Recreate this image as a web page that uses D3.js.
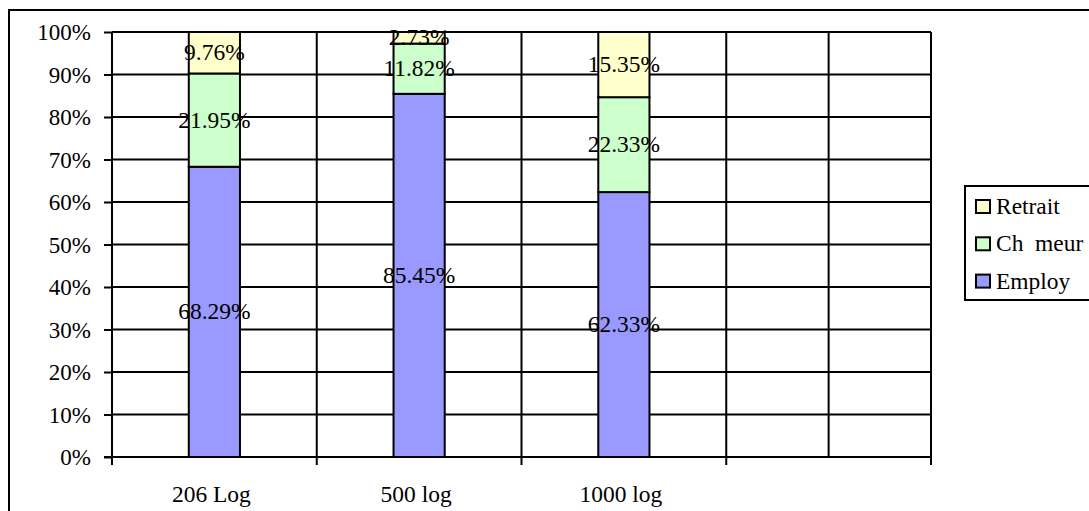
<!DOCTYPE html>
<html>
<head>
<meta charset="utf-8">
<script src="https://cdn.jsdelivr.net/npm/d3@7"></script>
<style>
  html, body { margin: 0; padding: 0; background: #fff; }
  svg { display: block; }
  text { font-family: "Liberation Serif", "Times New Roman", serif; fill: #000; }
</style>
</head>
<body>
<svg id="chart" width="1089" height="511"></svg>
<script>
// ---- data ----
const categories = ["206 Log", "500 log", "1000 log", ""];
const seriesNames = ["Employ", "Ch  meur", "Retrait"];
const employ  = [68.29, 85.45, 62.33];
const chomeur = [21.95, 11.82, 22.33];
const retrait = [9.76, 2.73, 15.35];
const yTicks = [0, 10, 20, 30, 40, 50, 60, 70, 80, 90, 100];
const colors = ["#9999FF", "#CCFFCC", "#FFFFCC"];

(function () {
const svg = d3.select("#chart");
const W = 1089, H = 511;
const pL = 112, pR = 931, pT = 32, pB = 457;
const FS = 23, SX = 1.02;

// outer chart border
svg.append("rect").attr("x", 9).attr("y", 10).attr("width", W + 20).attr("height", H + 20)
  .attr("fill", "#fff").attr("stroke", "#000").attr("stroke-width", 2);

const x = d3.scaleBand().domain(categories).range([pL, pR])
  .paddingInner(0.75).paddingOuter(0.375);
const y = d3.scaleLinear().domain([0, 100]).range([pB, pT]);

const rows = categories.slice(0, 3).map((c, i) => ({cat: c, v: [employ[i], chomeur[i], retrait[i]]}));

// horizontal gridlines
svg.append("g").selectAll("line").data(yTicks).join("line")
  .attr("x1", pL).attr("x2", pR)
  .attr("y1", d => y(d)).attr("y2", d => y(d))
  .attr("stroke", "#000").attr("stroke-width", 2);

// vertical gridlines every half category step
const step = x.step();
const vg = d3.range(1, categories.length * 2 + 1).map(k => pL + k * step / 2);
svg.append("g").selectAll("line").data(vg).join("line")
  .attr("x1", d => d).attr("x2", d => d)
  .attr("y1", pT).attr("y2", pB)
  .attr("stroke", "#000").attr("stroke-width", 2);

// bars
const segs = [];
rows.forEach(r => {
  let acc = 0;
  r.v.forEach((v, s) => {
    segs.push({cat: r.cat, s, y0: acc, y1: acc + v, v});
    acc += v;
  });
});
svg.append("g").selectAll("rect").data(segs).join("rect")
  .attr("x", d => x(d.cat))
  .attr("width", x.bandwidth())
  .attr("y", d => y(Math.min(100, d.y1)))
  .attr("height", d => y(d.y0) - y(Math.min(100, d.y1)))
  .attr("fill", d => colors[d.s])
  .attr("stroke", "#000").attr("stroke-width", 2);

// data labels
svg.append("g").selectAll("text").data(segs).join("text")
  .attr("transform", d => `translate(${x(d.cat) + x.bandwidth() / 2},${y((d.y0 + Math.min(100, d.y1)) / 2)}) scale(${SX},1)`)
  .attr("text-anchor", "middle").attr("dy", "0.33em")
  .attr("font-size", FS)
  .text(d => d.v.toFixed(2) + "%");

// y axis
svg.append("line").attr("x1", pL).attr("x2", pL).attr("y1", pT).attr("y2", pB + 1)
  .attr("stroke", "#000").attr("stroke-width", 2);
const yAxis = svg.append("g").attr("transform", `translate(${pL},0)`)
  .call(d3.axisLeft(y).tickValues(yTicks).tickSize(8).tickPadding(13).tickFormat(d => d + "%"));
yAxis.select(".domain").remove();
yAxis.selectAll("line").attr("stroke", "#000").attr("stroke-width", 2);
yAxis.selectAll("text").attr("font-size", FS).attr("font-family", "Liberation Serif")
  .attr("dy", "0.33em").attr("fill", "#000");

// x axis
svg.append("line").attr("x1", pL - 8).attr("x2", pR).attr("y1", pB).attr("y2", pB)
  .attr("stroke", "#000").attr("stroke-width", 2);
const xt = d3.range(0, categories.length + 1).map(k => pL + k * step);
svg.append("g").selectAll("line").data(xt).join("line")
  .attr("x1", d => d).attr("x2", d => d).attr("y1", pB).attr("y2", pB + 8)
  .attr("stroke", "#000").attr("stroke-width", 2);
svg.append("g").selectAll("text").data(categories).join("text")
  .attr("transform", d => `translate(${x(d) + x.bandwidth() / 2 - 3},${pB + 45}) scale(${SX},1)`)
  .attr("text-anchor", "middle").attr("font-size", FS)
  .text(d => d);

// legend
const lg = svg.append("g");
lg.append("rect").attr("x", 965).attr("y", 186).attr("width", 140).attr("height", 114)
  .attr("fill", "#fff").attr("stroke", "#000").attr("stroke-width", 2);
const legendOrder = [2, 1, 0];
legendOrder.forEach((s, i) => {
  const cy = 206.5 + i * 37.3;
  lg.append("rect").attr("x", 976).attr("y", cy - 6.5).attr("width", 14).attr("height", 13)
    .attr("fill", colors[s]).attr("stroke", "#000").attr("stroke-width", 2);
  lg.append("text").attr("transform", `translate(996,${cy + 7.5}) scale(${SX},1)`)
    .attr("font-size", FS).attr("xml:space", "preserve").style("white-space", "pre")
    .text(seriesNames[s]);
});
})();
</script>
</body>
</html>
